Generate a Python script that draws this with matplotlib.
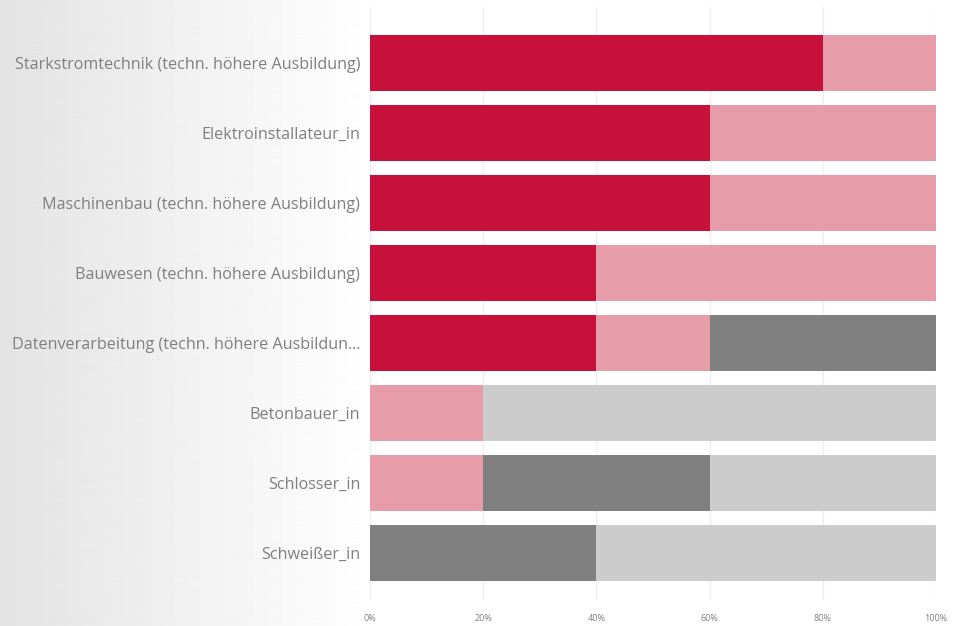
import numpy as np
import matplotlib.pyplot as plt

categories = ["Starkstromtechnik (techn. höhere Ausbildung)",
              "Elektroinstallateur_in",
              "Maschinenbau (techn. höhere Ausbildung)",
              "Bauwesen (techn. höhere Ausbildung)",
              "Datenverarbeitung (techn. höhere Ausbildun...",
              "Betonbauer_in",
              "Schlosser_in",
              "Schweißer_in"]
s1 = [80, 60, 60, 40, 40, 0, 0, 0]
s2 = [20, 40, 40, 60, 20, 20, 20, 0]
s3 = [0, 0, 0, 0, 40, 0, 40, 40]
s4 = [0, 0, 0, 0, 0, 80, 40, 60]
colors = ["#C8113A", "#E79CAA", "#808080", "#CCCCCC"]
ticks = [0, 20, 40, 60, 80, 100]

plt.rcParams['font.family'] = ['Open Sans', 'DejaVu Sans']

fig = plt.figure(figsize=(9.58, 6.26), dpi=100)

# background gradient on the left
bg = fig.add_axes([0, 0, 1, 1], zorder=-1)
grad = np.linspace(0.89, 1.0, 375)
grad = np.concatenate([grad, np.ones(583)])
bg.imshow(np.tile(grad, (10, 1)), cmap="gray", vmin=0, vmax=1, aspect="auto",
          extent=[0, 1, 0, 1])
bg.axis("off")

W, H = 958, 626
ax = fig.add_axes([370 / W, 1 - 600 / H, (936 - 370) / W, (600 - 7) / H])
ax.patch.set_alpha(0)

y = np.arange(len(categories))
left = np.zeros(len(categories))
for vals, c in zip([s1, s2, s3, s4], colors):
    ax.barh(y, vals, left=left, height=0.79, color=c, linewidth=0, zorder=2)
    left += np.array(vals)

ax.set_ylim(7.67, -0.8)
ax.set_xlim(0, 100)
ax.set_yticks(y)
ax.set_yticklabels(categories, fontsize=11.6, color="#7f7f7f")
ax.set_xticks(ticks)
ax.set_xticklabels([f"{t}%" for t in ticks], fontsize=6.5, color="#7f7f7f")
ax.tick_params(axis="both", length=0)
ax.tick_params(axis="x", pad=10)
ax.tick_params(axis="y", pad=7)
ax.grid(axis="x", color="#eeeeee", linewidth=1, zorder=0)
for s in ax.spines.values():
    s.set_visible(False)

fig.savefig("out.png", dpi=100)
